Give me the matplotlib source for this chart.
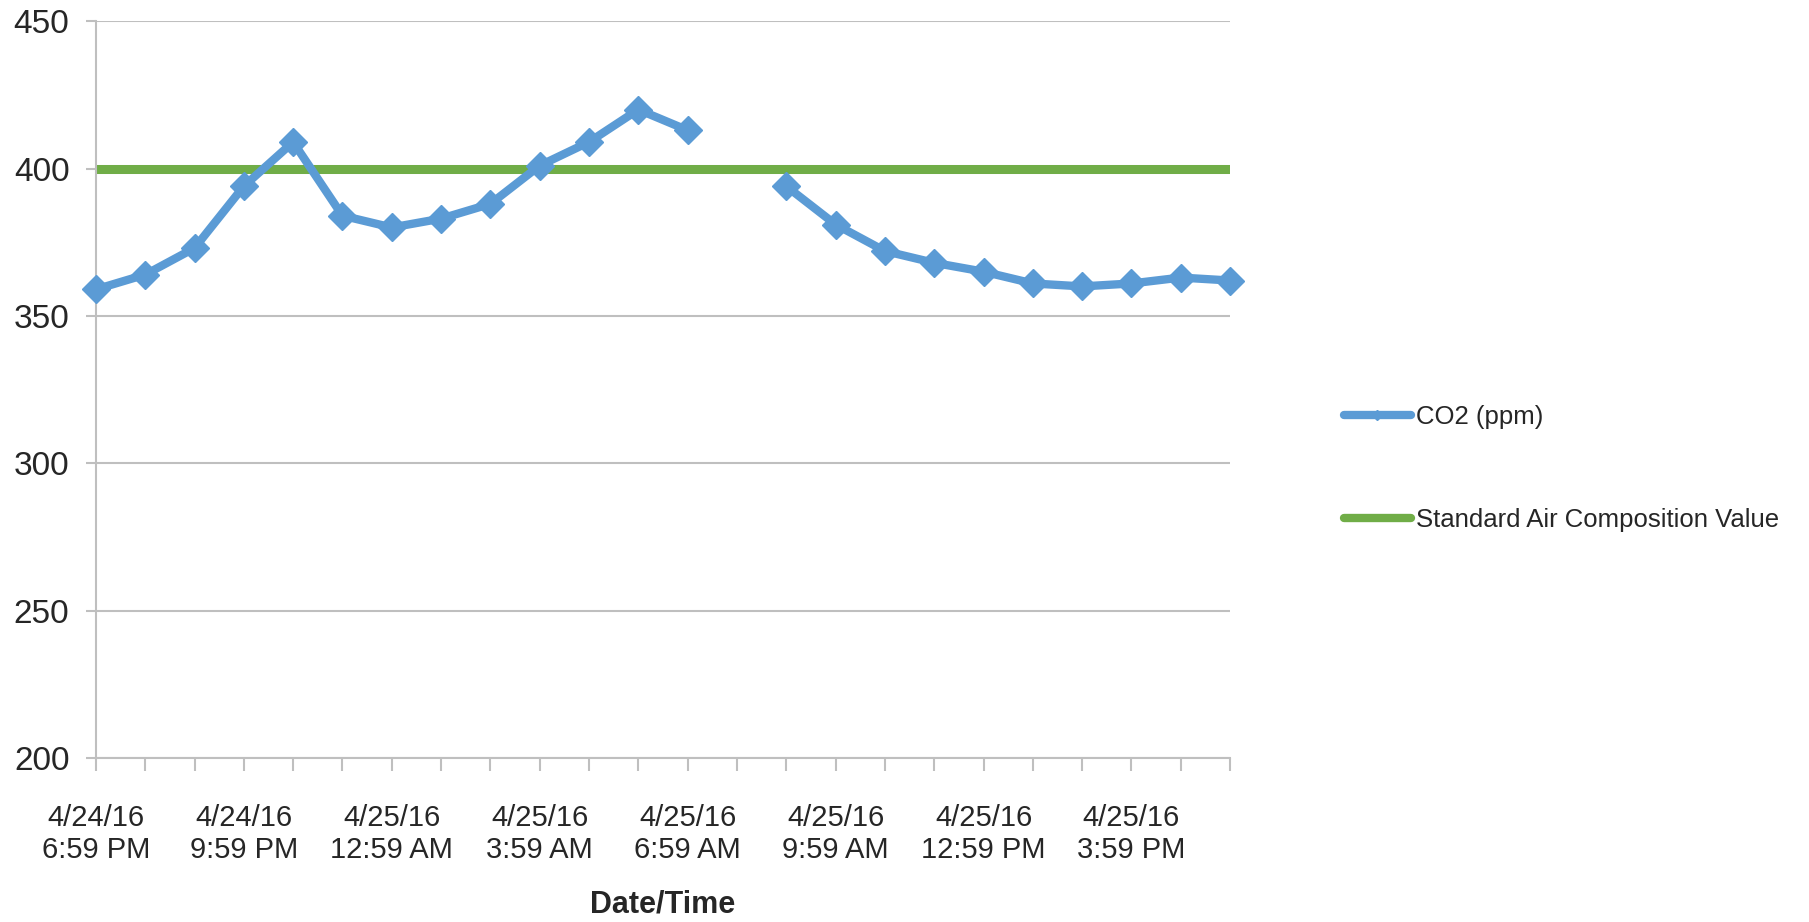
import numpy as np
import matplotlib
matplotlib.use("Agg")
from matplotlib import pyplot as plt

# hourly readings, 4/24/16 6:59 PM .. 4/25/16 5:59 PM (one reading missing)
times = [
    "4/24/16\n6:59 PM", "4/24/16\n7:59 PM", "4/24/16\n8:59 PM",
    "4/24/16\n9:59 PM", "4/24/16\n10:59 PM", "4/24/16\n11:59 PM",
    "4/25/16\n12:59 AM", "4/25/16\n1:59 AM", "4/25/16\n2:59 AM",
    "4/25/16\n3:59 AM", "4/25/16\n4:59 AM", "4/25/16\n5:59 AM",
    "4/25/16\n6:59 AM", "4/25/16\n7:59 AM", "4/25/16\n8:59 AM",
    "4/25/16\n9:59 AM", "4/25/16\n10:59 AM", "4/25/16\n11:59 AM",
    "4/25/16\n12:59 PM", "4/25/16\n1:59 PM", "4/25/16\n2:59 PM",
    "4/25/16\n3:59 PM", "4/25/16\n4:59 PM", "4/25/16\n5:59 PM",
]
co2_ppm = [359, 364, 373, 394, 409, 384, 380, 383, 388, 401, 409, 420,
           413, np.nan, 394, 381, 372, 368, 365, 361, 360, 361, 363, 362]
standard_air = [400] * len(times)

BLUE = "#5B9BD5"
GREEN = "#70AD47"
GRID = "#BFBFBF"

plt.rcParams["font.family"] = ["Liberation Sans Narrow", "Liberation Sans", "DejaVu Sans"]

fig = plt.figure(figsize=(18.09, 9.22), dpi=100)
ax = fig.add_axes([0.053, 0.178, 0.627, 0.799])

x = np.arange(len(times))
ax.plot(x, co2_ppm, color=BLUE, lw=6, marker="D", ms=14, clip_on=False,
        label="CO2 (ppm)", zorder=3)
ax.plot(x, standard_air, color=GREEN, lw=6.5, solid_capstyle="butt",
        label="Standard Air Composition Value", zorder=2)

ax.set_xlim(0, len(times) - 1)
ax.set_ylim(200, 450)
ax.set_yticks(np.arange(200, 451, 50))
ax.yaxis.grid(True, color=GRID, lw=1.5)
ax.set_axisbelow(True)

ax.set_xticks(x)
ax.set_xticklabels([t if i % 3 == 0 else "" for i, t in enumerate(times)])

for side in ["top", "right"]:
    ax.spines[side].set_visible(False)
for side in ["left", "bottom"]:
    ax.spines[side].set_color(GRID)
    ax.spines[side].set_linewidth(1.5)

ax.tick_params(axis="x", direction="out", length=9, width=1.5, color=GRID,
               pad=24, labelsize=21, labelcolor="#262626")
ax.tick_params(axis="y", direction="out", length=7, width=1.5, color=GRID,
               pad=12, labelsize=24, labelcolor="#262626")

ax.set_xlabel("Date/Time", fontsize=22, fontweight="bold", color="#262626",
              labelpad=18)

leg = ax.legend(loc="center left", bbox_to_anchor=(0.743, 0.492),
                bbox_transform=fig.transFigure, frameon=False, fontsize=18.5,
                handlelength=2.6, handletextpad=0.2, labelspacing=3.1,
                borderpad=0, borderaxespad=0, markerscale=0.4,
                labelcolor="#262626")
for line in leg.get_lines():
    line.set_solid_capstyle("round")
    line.set_linewidth(6)

plt.savefig("out.png", dpi=100)
